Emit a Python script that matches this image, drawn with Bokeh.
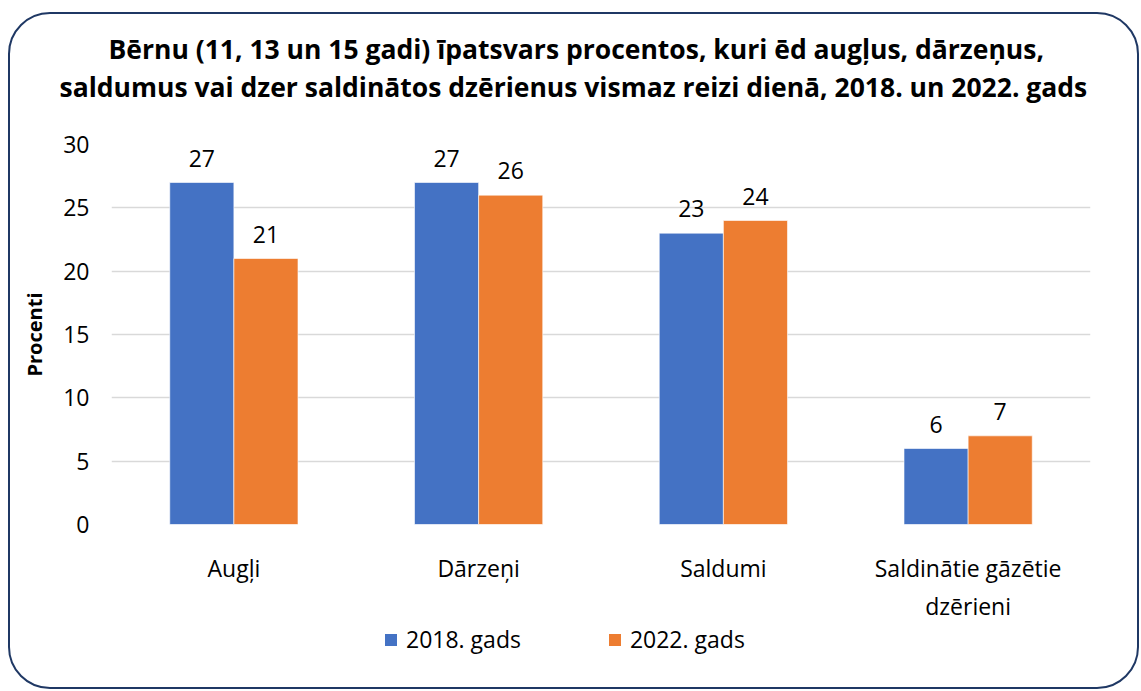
from bokeh.plotting import figure
from bokeh.layouts import column
from bokeh.models import (ColumnDataSource, FactorRange, Range1d, Legend, LegendItem,
                          Title, FixedTicker)
from bokeh.transform import dodge
from bokeh.core.properties import value
from bokeh.embed import file_html
from bokeh.resources import INLINE

# ---- data ----
categories = ["Augļi", "Dārzeņi", "Saldumi", "Saldinātie gāzētie\ndzērieni"]
series_names = ["2018. gads", "2022. gads"]
values_2018 = [27, 27, 23, 6]
values_2022 = [21, 26, 24, 7]
y_ticks = [0, 5, 10, 15, 20, 25, 30]
title_lines = [
    "Bērnu (11, 13 un 15 gadi) īpatsvars procentos, kuri ēd augļus, dārzeņus,",
    "saldumus vai dzer saldinātos dzērienus vismaz reizi dienā, 2018. un 2022. gads",
]
y_label = "Procenti"
colors = ["#4472C4", "#ED7D31"]

FONT = "Open Sans"
W = 1127
H1, H2 = 610, 63
BAR_W = 0.262
FS = "23px"

src = ColumnDataSource(dict(
    cat=categories,
    v18=values_2018,
    v22=values_2022,
    t18=[str(v) for v in values_2018],
    t22=[str(v) for v in values_2022],
))

p = figure(
    x_range=FactorRange(factors=categories, range_padding=0),
    y_range=Range1d(0, 30),
    width=W, height=H1,
    output_backend="svg", toolbar_location=None,
    min_border_left=101, min_border_right=47,
    min_border_top=130, min_border_bottom=87,
)
p.outline_line_color = None
p.background_fill_color = "white"
p.border_fill_color = None

r18 = p.vbar(x=dodge("cat", -BAR_W / 2, range=p.x_range), top="v18", width=BAR_W,
             source=src, fill_color=colors[0], line_color="#ffffff", line_width=0.6)
r22 = p.vbar(x=dodge("cat", BAR_W / 2, range=p.x_range), top="v22", width=BAR_W,
             source=src, fill_color=colors[1], line_color="#ffffff", line_width=0.6)

for col, off in (("18", -BAR_W / 2), ("22", BAR_W / 2)):
    p.text(x=dodge("cat", off, range=p.x_range), y="v" + col, text="t" + col, source=src,
           text_align="center", text_baseline="bottom", y_offset=-16,
           text_font=value(FONT), text_font_size=FS, text_color="#000000")

# axes
p.yaxis.ticker = FixedTicker(ticks=y_ticks)
for ax in (p.xaxis[0], p.yaxis[0]):
    ax.axis_line_color = None
    ax.major_tick_line_color = None
    ax.minor_tick_line_color = None
    ax.major_label_text_font = FONT
    ax.major_label_text_font_size = FS
    ax.major_label_text_color = "#000000"
p.yaxis.major_label_standoff = 16
p.xaxis.major_label_standoff = 21
p.yaxis.axis_label = y_label
p.yaxis.axis_label_text_font = FONT
p.yaxis.axis_label_text_font_style = "bold"
p.yaxis.axis_label_text_font_size = "20px"
p.yaxis.axis_label_text_color = "#000000"
p.yaxis.axis_label_standoff = 12

p.xgrid.grid_line_color = None
p.ygrid.grid_line_color = "#d9d9d9"
p.ygrid.grid_line_width = 1.5

# title: p.title is outermost; a blank spacer title sits nearest the plot
p.title.text = title_lines[0]
t2 = Title(text=title_lines[1])
p.add_layout(t2, "above")
for t, off in ((p.title, -3), (t2, -52)):
    t.align = "left"
    t.offset = off
    t.text_font = FONT
    t.text_font_style = "bold"
    t.text_font_size = "26.5px"
    t.text_color = "#000000"
    t.standoff = 0
p.above.remove(t2)
spacer = Title(text=" ", text_font=FONT, text_font_size="28.5px", standoff=0)
p.above.insert(0, spacer)
p.above.insert(1, t2)

# legend in its own strip below the chart
lf = figure(width=W, height=H2, x_range=Range1d(0, 1), y_range=Range1d(0, 1),
            x_axis_type=None, y_axis_type=None, min_border=0,
            output_backend="svg", toolbar_location=None)
lf.outline_line_color = None
lf.background_fill_color = None
lf.border_fill_color = None
lf.xgrid.grid_line_color = None
lf.ygrid.grid_line_color = None
k18 = lf.vbar(x=[0], top=[0], width=0.1, fill_color=colors[0], line_color=None, visible=False)
k22 = lf.vbar(x=[0], top=[0], width=0.1, fill_color=colors[1], line_color=None, visible=False)
legend = Legend(items=[LegendItem(label=series_names[0], renderers=[k18]),
                       LegendItem(label=series_names[1], renderers=[k22])],
                orientation="horizontal", location=(272, 32),
                glyph_width=15, glyph_height=15, label_standoff=8, spacing=86,
                padding=0, margin=0, border_line_color=None, background_fill_alpha=0,
                inactive_fill_alpha=0,
                label_text_font=FONT, label_text_font_size=FS, label_text_color="#000000")
lf.add_layout(legend, "center")

layout = column(p, lf, margin=(12, 0, 0, 8),
                styles={"border": "2.5px solid #1f3864", "border-radius": "42px"})

open("out.html", "w").write(file_html(layout, INLINE))
